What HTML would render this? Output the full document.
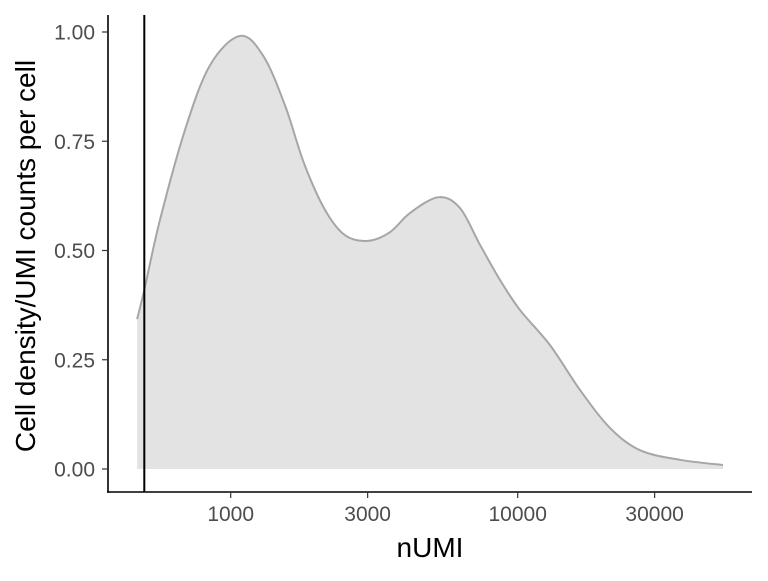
<!DOCTYPE html>
<html><head><meta charset="utf-8"><style>
html,body{margin:0;padding:0;background:#fff;}
svg text{font-family:"Liberation Sans",sans-serif;}
</style></head><body>
<svg id="chart" width="768" height="576" xmlns="http://www.w3.org/2000/svg">
<g id="plot"></g>
</svg>
<script>
const numi = [472,500,567,693,847,1077,1300,1550,1800,2131,2502,3009,3589,4217,5300,6296,7390,8670,10180,12940,16480,20970,26680,36780,51920];
const density = [0.343,0.41,0.57,0.776,0.924,0.991,0.945,0.83,0.70,0.593,0.535,0.522,0.542,0.586,0.622,0.597,0.513,0.433,0.364,0.284,0.181,0.094,0.043,0.021,0.009];
const xTicks = [1000,3000,10000,30000];
const xTickLabels = ["1000","3000","10000","30000"];
const yTicks = [0,0.25,0.5,0.75,1];
const yTickLabels = ["0.00","0.25","0.50","0.75","1.00"];
const cutoff = 500;

const NS="http://www.w3.org/2000/svg";
const g=document.getElementById('plot');
const xs=v=>230.7+287*Math.log10(v/1000);
const ys=d=>469-437*d;
function mk(tag,attrs,parent){const e=document.createElementNS(NS,tag);for(const k in attrs)e.setAttribute(k,attrs[k]);(parent||g).appendChild(e);return e;}

const pts=numi.map((v,i)=>[xs(v),ys(density[i])]);
let d=`M${pts[0][0]},${pts[0][1]}`;
for(let i=0;i<pts.length-1;i++){
  const p0=pts[Math.max(0,i-1)],p1=pts[i],p2=pts[i+1],p3=pts[Math.min(pts.length-1,i+2)];
  const c1=[p1[0]+(p2[0]-p0[0])/6,p1[1]+(p2[1]-p0[1])/6];
  const c2=[p2[0]-(p3[0]-p1[0])/6,p2[1]-(p3[1]-p1[1])/6];
  d+=` C${c1[0]},${c1[1]} ${c2[0]},${c2[1]} ${p2[0]},${p2[1]}`;
}
const area=mk('path',{d:d+` L${pts[pts.length-1][0]},${ys(0)} L${pts[0][0]},${ys(0)} Z`,fill:'#e3e3e3',stroke:'none'});


const line=mk('path',{d:d,fill:'none',stroke:'#a6a6a6','stroke-width':2});



const vl=mk('line',{x1:xs(cutoff),x2:xs(cutoff),y1:15,y2:492,stroke:'#000','stroke-width':2});



const ax=mk('line',{x1:107,x2:752,y1:492,y2:492,stroke:'#000','stroke-width':1.6});


const ay=mk('line',{x1:108,x2:108,y1:15,y2:492.8,stroke:'#000','stroke-width':1.6});



xTicks.forEach((v,i)=>{
  const t=mk('line',{x1:xs(v),x2:xs(v),y1:492,y2:498,stroke:'#333','stroke-width':1.2});
  
  
  const l=mk('text',{x:xs(v),y:521,'text-anchor':'middle','font-size':21,fill:'#4d4d4d'});
  l.textContent=xTickLabels[i];
  
  
});
yTicks.forEach((v,i)=>{
  const t=mk('line',{x1:102,x2:108,y1:ys(v),y2:ys(v),stroke:'#333','stroke-width':1.2});
  
  
  const l=mk('text',{x:95,y:ys(v)+7.5,'text-anchor':'end','font-size':21,fill:'#4d4d4d'});
  l.textContent=yTickLabels[i];
  
  
});
const xt=mk('text',{x:430,y:557,'text-anchor':'middle','font-size':28,fill:'#000'});
xt.textContent='nUMI';


const yt=mk('text',{x:0,y:0,'text-anchor':'middle','font-size':28,fill:'#000',transform:'translate(35,256) rotate(-90)'});
yt.textContent='Cell density/UMI counts per cell';


</script>
</body></html>
